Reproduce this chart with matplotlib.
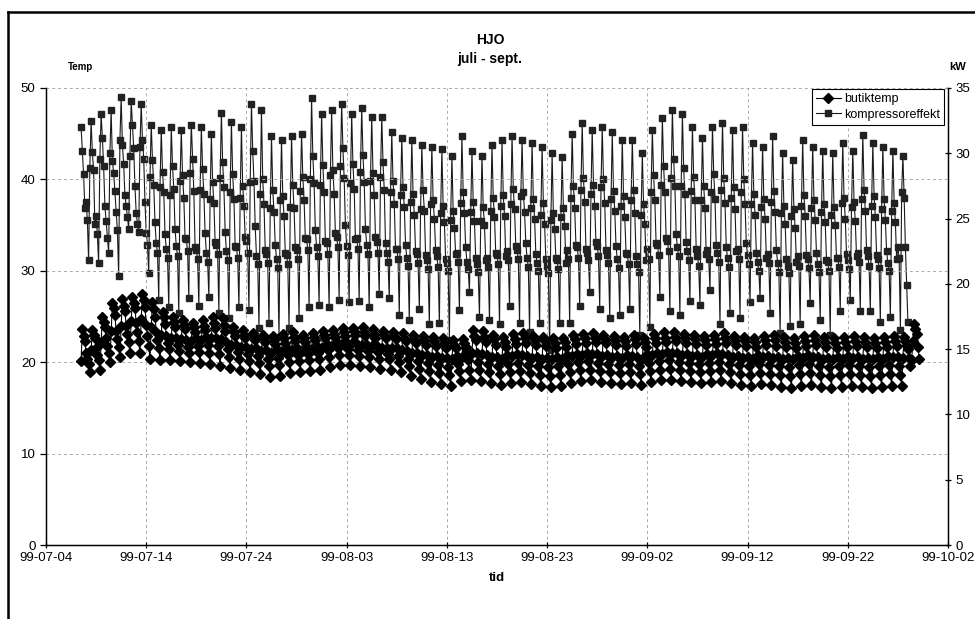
# HJO - butiktemp och kompressoreffekt, juli - sept. 1999
import numpy as np
import pandas as pd
import matplotlib
matplotlib.use('Agg')
import matplotlib.pyplot as plt
import matplotlib.dates as mdates

plt.rcParams['font.family'] = ['Liberation Sans', 'DejaVu Sans']

# readings every 3 hours, first one 99-07-07 12:00
start = '1999-07-07 12:00'

# butiktemp (left axis, Temp)
butiktemp = [
    20.1, 23.6, 22.9, 22.3,                                # 07-07
    21.0, 20.4, 19.8, 18.9, 21.3, 23.5, 23.0, 22.6,        # 07-08
    21.5, 20.8, 20.2, 19.2, 22.1, 25.0, 24.4, 23.8,
    22.6, 21.8, 21.0, 20.0, 23.4, 26.5, 25.9, 25.2,
    23.4, 22.5, 21.7, 20.6, 24.0, 26.9, 26.2, 25.6,
    24.0, 23.1, 22.2, 21.0, 24.5, 27.1, 26.5, 25.9,
    24.3, 23.3, 22.3, 21.0, 24.7, 27.5, 26.8, 26.0,
    24.1, 22.9, 21.8, 20.3, 23.9, 26.6, 25.8, 25.0,        # 07-14
    23.3, 22.4, 21.5, 20.2, 23.0, 25.5, 24.9, 24.2,
    22.9, 22.1, 21.4, 20.2, 22.7, 24.9, 24.4, 23.8,
    22.6, 21.9, 21.2, 20.1, 22.5, 24.6, 24.1, 23.6,
    22.4, 21.7, 21.0, 20.0, 22.3, 24.3, 23.8, 23.3,
    22.6, 21.8, 21.1, 19.9, 22.4, 24.6, 24.0, 23.5,
    22.8, 21.9, 21.0, 19.8, 22.6, 25.0, 24.3, 23.7,
    22.7, 21.8, 20.9, 19.6, 22.5, 24.8, 24.1, 23.4,        # 07-21
    22.2, 21.4, 20.6, 19.4, 21.9, 23.8, 23.3, 22.9,
    21.9, 21.1, 20.4, 19.2, 21.7, 23.5, 23.0, 22.6,
    21.7, 20.9, 20.1, 18.9, 21.4, 23.2, 22.8, 22.4,
    21.5, 20.7, 19.9, 18.7, 21.2, 23.0, 22.6, 22.2,
    21.3, 20.4, 19.6, 18.4, 21.0, 22.9, 22.4, 22.0,
    21.4, 20.5, 19.7, 18.5, 21.1, 23.1, 22.6, 22.1,
    21.6, 20.8, 20.0, 18.8, 21.3, 23.3, 22.8, 22.3,        # 07-28
    21.5, 20.8, 20.1, 18.9, 21.2, 23.0, 22.6, 22.2,
    21.7, 20.9, 20.2, 19.0, 21.4, 23.2, 22.8, 22.4,
    21.8, 21.0, 20.3, 19.1, 21.6, 23.4, 23.0, 22.6,
    22.0, 21.3, 20.6, 19.5, 21.8, 23.5, 23.1, 22.8,        # 08-01
    22.2, 21.5, 20.8, 19.7, 22.0, 23.7, 23.3, 22.9,
    22.1, 21.4, 20.8, 19.7, 22.1, 23.7, 23.4, 23.0,
    22.0, 21.3, 20.7, 19.6, 21.9, 23.8, 23.3, 22.9,
    21.9, 21.2, 20.6, 19.5, 21.8, 23.6, 23.1, 22.7,
    21.8, 21.1, 20.4, 19.3, 21.6, 23.4, 23.0, 22.6,
    21.6, 20.9, 20.3, 19.2, 21.5, 23.3, 22.9, 22.5,
    21.5, 20.7, 20.0, 18.9, 21.3, 23.2, 22.7, 22.3,        # 08-08
    21.2, 20.4, 19.6, 18.5, 21.0, 23.0, 22.5, 22.1,
    21.0, 20.1, 19.3, 18.2, 20.8, 22.9, 22.4, 21.9,
    20.8, 19.9, 19.0, 17.8, 20.6, 22.8, 22.3, 21.8,
    20.7, 19.7, 18.8, 17.6, 20.5, 22.6, 22.1, 21.6,
    20.5, 19.5, 18.6, 17.4, 20.3, 22.4, 21.9, 21.5,
    20.7, 19.8, 19.0, 17.9, 20.6, 22.5, 22.1, 21.7,
    21.2, 20.2, 19.2, 18.0, 21.0, 23.5, 22.9, 22.4,        # 08-15
    21.0, 20.0, 19.1, 17.9, 20.9, 23.4, 22.8, 22.2,
    20.8, 19.8, 18.9, 17.7, 20.6, 23.0, 22.5, 21.9,
    20.6, 19.6, 18.7, 17.5, 20.4, 22.8, 22.2, 21.7,
    20.8, 19.8, 18.9, 17.7, 20.7, 23.1, 22.5, 22.0,
    20.9, 19.9, 19.0, 17.8, 20.8, 23.2, 22.6, 22.1,
    20.7, 19.7, 18.8, 17.6, 20.5, 22.9, 22.4, 21.9,
    20.6, 19.6, 18.6, 17.4, 20.4, 22.8, 22.3, 21.8,        # 08-22
    20.5, 19.5, 18.5, 17.3, 20.3, 22.6, 22.1, 21.6,
    20.6, 19.6, 18.6, 17.4, 20.4, 22.7, 22.2, 21.7,
    20.8, 19.8, 18.9, 17.7, 20.7, 23.0, 22.5, 22.0,
    20.9, 20.0, 19.1, 17.9, 20.8, 23.1, 22.6, 22.1,
    21.0, 20.1, 19.2, 18.0, 20.9, 23.2, 22.7, 22.2,
    20.9, 19.9, 19.0, 17.8, 20.7, 23.0, 22.5, 22.1,
    20.8, 19.8, 18.9, 17.7, 20.6, 22.9, 22.4, 21.9,        # 08-29
    20.7, 19.7, 18.8, 17.6, 20.5, 22.8, 22.3, 21.8,
    20.8, 19.8, 18.9, 17.7, 20.7, 23.0, 22.5, 22.0,
    20.6, 19.6, 18.7, 17.5, 20.4, 22.7, 22.2, 21.7,        # 09-01
    20.9, 19.9, 19.0, 17.8, 20.8, 23.1, 22.6, 22.1,
    21.0, 20.1, 19.2, 18.0, 20.9, 23.3, 22.7, 22.2,
    21.1, 20.2, 19.3, 18.1, 21.0, 23.3, 22.8, 22.3,
    21.0, 20.0, 19.1, 17.9, 20.8, 23.1, 22.6, 22.1,        # 09-05
    20.9, 19.9, 19.0, 17.8, 20.7, 23.0, 22.5, 22.0,
    20.8, 19.8, 18.9, 17.7, 20.6, 22.9, 22.4, 21.9,
    20.9, 19.9, 19.0, 17.8, 20.8, 23.0, 22.5, 22.0,
    21.0, 20.0, 19.1, 17.9, 20.9, 23.2, 22.6, 22.1,
    20.8, 19.8, 18.9, 17.7, 20.6, 22.9, 22.4, 21.9,
    20.7, 19.7, 18.7, 17.5, 20.5, 22.8, 22.3, 21.8,
    20.6, 19.6, 18.6, 17.4, 20.4, 22.7, 22.2, 21.7,        # 09-12
    20.8, 19.8, 18.8, 17.6, 20.6, 22.9, 22.4, 21.9,
    20.7, 19.7, 18.7, 17.5, 20.5, 23.0, 22.4, 21.8,
    20.6, 19.6, 18.6, 17.3, 20.4, 22.8, 22.2, 21.7,
    20.5, 19.5, 18.5, 17.2, 20.3, 22.7, 22.1, 21.6,
    20.7, 19.7, 18.7, 17.4, 20.5, 22.9, 22.3, 21.8,
    20.8, 19.8, 18.8, 17.5, 20.6, 23.0, 22.4, 21.9,
    20.6, 19.6, 18.6, 17.3, 20.4, 22.8, 22.2, 21.7,        # 09-19
    20.5, 19.5, 18.5, 17.2, 20.3, 22.7, 22.1, 21.6,
    20.6, 19.6, 18.6, 17.3, 20.4, 22.8, 22.2, 21.7,
    20.7, 19.7, 18.7, 17.4, 20.5, 22.9, 22.3, 21.8,
    20.6, 19.6, 18.6, 17.3, 20.4, 22.8, 22.2, 21.7,
    20.5, 19.5, 18.5, 17.2, 20.3, 22.7, 22.1, 21.6,
    20.6, 19.6, 18.6, 17.3, 20.4, 22.8, 22.2, 21.7,
    20.7, 19.7, 18.7, 17.4, 20.6, 22.9, 22.3, 21.8,        # 09-26
    20.6, 19.6, 18.6, 17.4, 20.5, 22.8, 22.3, 21.9,
    21.4, 20.5, 19.6, 20.2, 22.3, 24.2, 23.6, 23.1,        # 09-28
    21.7, 20.4,                                            # 09-29
]

# kompressoreffekt (right axis, kW)
kompressoreffekt = [
    32.0, 30.2, 28.4, 25.8,                                # 07-07
    26.3, 24.9, 21.8, 28.9, 32.5, 30.1, 28.7, 24.6,        # 07-08
    25.2, 23.8, 21.6, 29.6, 33.0, 31.2, 29.0, 26.0,
    24.8, 23.5, 22.4, 30.0, 33.3, 29.4, 28.5, 27.1,
    25.5, 24.1, 20.6, 31.0, 34.3, 30.6, 29.2, 26.8,
    26.0, 25.1, 24.2, 29.8, 34.0, 32.2, 30.4, 27.5,
    25.4, 24.6, 24.0, 30.5, 33.8, 31.0, 29.6, 26.3,
    23.9, 23.0, 20.8, 28.2, 32.2, 29.5, 27.6, 24.7,        # 07-14
    23.1, 22.4, 18.8, 27.4, 31.8, 28.6, 27.0, 23.8,
    22.7, 22.0, 18.2, 26.8, 32.0, 29.0, 27.3, 24.2,
    22.9, 22.1, 17.8, 27.9, 31.8, 28.3, 26.6, 23.5,
    23.4, 22.5, 18.9, 28.5, 32.2, 29.6, 27.1, 22.8,
    22.6, 21.9, 18.3, 27.2, 32.0, 28.8, 26.9, 23.9,
    22.4, 21.7, 19.0, 26.5, 31.5, 27.8, 26.2, 23.2,
    23.0, 22.3, 17.8, 28.1, 33.1, 29.3, 27.4, 24.0,        # 07-21
    22.5, 21.8, 17.4, 27.0, 32.4, 28.4, 26.5, 22.9,
    22.8, 22.0, 18.2, 26.6, 32.0, 27.5, 26.0, 23.6,
    23.3, 22.4, 18.0, 27.8, 33.8, 30.2, 27.9, 24.4,
    22.1, 21.5, 16.6, 26.9, 33.3, 28.0, 26.1, 22.6,
    22.3, 21.6, 17.0, 25.8, 31.3, 27.2, 25.5, 23.0,
    21.9, 21.2, 15.9, 26.4, 31.0, 26.7, 25.2, 22.4,
    22.2, 21.5, 16.6, 25.9, 31.3, 27.6, 25.8, 22.8,        # 07-28
    22.6, 21.9, 17.4, 27.1, 31.5, 28.2, 26.4, 23.5,
    23.4, 22.6, 18.2, 28.0, 34.2, 29.8, 27.7, 24.1,
    22.8, 22.1, 18.4, 27.6, 33.0, 29.1, 27.0, 23.3,
    23.1, 22.3, 18.2, 28.3, 33.3, 28.7, 26.9, 23.9,        # 08-01
    23.6, 22.8, 18.8, 29.0, 33.8, 30.4, 28.1, 24.5,
    22.9, 22.2, 18.6, 27.7, 33.0, 29.2, 27.3, 23.4,
    23.5, 22.7, 18.7, 28.6, 33.5, 29.9, 27.8, 24.2,
    23.0, 22.3, 18.2, 27.9, 32.8, 28.5, 26.8, 23.6,
    23.2, 22.4, 19.2, 28.2, 32.8, 29.3, 27.2, 23.1,
    22.4, 21.7, 18.9, 27.0, 31.6, 27.9, 26.1, 22.7,
    22.7, 21.9, 17.6, 26.8, 31.2, 27.4, 25.9, 23.0,        # 08-08
    22.0, 21.4, 17.2, 26.3, 31.0, 26.9, 25.3, 22.5,
    22.3, 21.6, 18.1, 25.7, 30.6, 27.2, 25.6, 22.2,
    21.8, 21.1, 16.9, 26.1, 30.5, 26.4, 25.0, 22.6,
    22.1, 21.3, 17.0, 25.4, 30.3, 26.0, 24.7, 21.9,
    21.6, 21.0, 15.7, 24.9, 29.8, 25.6, 24.3, 22.3,
    22.4, 21.7, 18.0, 26.2, 31.3, 27.0, 25.4, 22.8,
    21.7, 21.1, 19.4, 25.5, 30.2, 26.3, 24.8, 22.0,        # 08-15
    21.5, 20.9, 17.5, 24.8, 29.8, 25.9, 24.5, 21.8,
    22.0, 21.3, 17.2, 25.6, 30.6, 26.6, 25.1, 22.4,
    22.2, 21.5, 16.9, 26.0, 31.0, 26.8, 25.2, 22.1,
    22.5, 21.8, 18.3, 26.1, 31.3, 27.3, 25.7, 22.9,
    22.6, 21.9, 17.0, 26.7, 31.0, 27.0, 25.5, 23.1,
    22.0, 21.3, 16.3, 25.8, 30.8, 26.5, 25.0, 22.3,
    21.6, 21.0, 17.0, 25.3, 30.5, 26.2, 24.6, 21.9,        # 08-22
    21.4, 20.8, 14.9, 24.9, 30.0, 25.4, 24.2, 22.0,
    21.8, 21.1, 17.0, 25.1, 29.7, 25.8, 24.4, 21.6,
    22.6, 21.9, 17.0, 26.6, 31.5, 27.5, 25.8, 23.0,
    22.8, 22.0, 18.3, 27.2, 32.3, 28.1, 26.3, 22.7,
    22.4, 21.8, 19.4, 26.9, 31.8, 27.6, 26.0, 23.2,
    22.9, 22.1, 18.1, 27.4, 32.0, 28.0, 26.2, 22.6,
    22.2, 21.6, 17.4, 26.5, 31.6, 27.1, 25.6, 22.9,        # 08-29
    21.9, 21.2, 17.6, 26.0, 31.0, 26.7, 25.1, 22.4,
    22.3, 21.5, 18.1, 26.4, 31.0, 27.2, 25.4, 22.1,
    21.5, 20.9, 16.1, 25.3, 30.0, 26.1, 24.6, 21.8,        # 09-01
    22.7, 21.9, 16.7, 27.0, 31.8, 28.3, 26.4, 23.1,
    23.0, 22.2, 19.0, 27.6, 32.7, 29.0, 27.0, 23.5,
    23.3, 22.5, 17.9, 28.1, 33.3, 29.6, 27.5, 23.8,
    22.8, 22.1, 17.6, 27.5, 33.0, 28.9, 26.9, 23.2,        # 09-05
    22.5, 21.8, 18.7, 27.1, 32.0, 28.2, 26.4, 22.7,
    22.1, 21.4, 18.4, 26.4, 31.2, 27.5, 25.8, 22.3,
    22.6, 21.9, 19.5, 27.0, 32.0, 28.4, 26.5, 23.0,
    22.4, 21.7, 16.9, 27.2, 32.3, 28.1, 26.2, 22.8,
    22.0, 21.3, 17.8, 26.6, 31.8, 27.4, 25.7, 22.5,
    22.7, 21.9, 17.4, 27.0, 32.0, 28.0, 26.1, 23.1,
    22.2, 21.5, 18.6, 26.1, 30.8, 26.9, 25.3, 22.4,        # 09-12
    21.7, 21.0, 18.9, 25.9, 30.5, 26.5, 25.0, 22.0,
    22.3, 21.6, 17.8, 26.3, 31.3, 27.1, 25.5, 22.6,
    21.6, 20.9, 16.2, 25.4, 30.0, 26.0, 24.6, 21.9,
    21.4, 20.8, 16.8, 25.2, 29.5, 25.7, 24.3, 21.7,
    22.1, 21.4, 16.9, 26.0, 31.0, 26.8, 25.2, 22.2,
    21.9, 21.2, 18.5, 25.8, 30.5, 26.4, 24.9, 22.4,
    21.5, 20.9, 17.2, 25.5, 30.2, 26.1, 24.7, 21.8,        # 09-19
    21.7, 21.0, 16.1, 25.3, 30.0, 25.9, 24.5, 22.0,
    22.0, 21.3, 17.9, 26.2, 30.8, 26.6, 25.0, 22.3,
    21.8, 21.1, 18.8, 25.9, 30.2, 26.3, 24.8, 22.1,
    22.4, 21.7, 17.9, 26.5, 31.4, 27.2, 25.6, 22.6,
    22.1, 21.4, 17.9, 26.0, 30.8, 26.7, 25.1, 22.2,
    21.9, 21.2, 17.1, 25.7, 30.5, 26.5, 24.9, 22.5,
    21.6, 21.0, 17.5, 25.6, 30.2, 26.2, 24.7, 21.9,        # 09-26
    22.8, 22.0, 16.5, 27.0, 29.8, 26.6, 22.8, 19.9,
    17.1,                                                  # 09-28
]

t_temp = pd.date_range(start, periods=len(butiktemp), freq='3h')
t_kw = pd.date_range(start, periods=len(kompressoreffekt), freq='3h')

fig = plt.figure(figsize=(9.75, 6.19), dpi=100)
ax = fig.add_axes([46/975, 1 - 545/619, (948 - 46)/975, (545 - 88)/619])
ax2 = ax.twinx()

l2, = ax2.plot(t_kw, kompressoreffekt, color='#1a1a1a', lw=0.8, marker='s',
               markersize=5.0, markerfacecolor='#222222', markeredgecolor='#222222',
               label='kompressoreffekt')
l1, = ax.plot(t_temp, butiktemp, color='black', lw=0.8, marker='D',
              markersize=4.8, markerfacecolor='black', markeredgecolor='black',
              label='butiktemp')

# temperature drawn on top of the compressor series
ax.set_zorder(2)
ax.patch.set_visible(False)

ax.set_ylim(0, 50)
ax.set_yticks([0, 10, 20, 30, 40, 50])
ax2.set_ylim(0, 35)
ax2.set_yticks([0, 5, 10, 15, 20, 25, 30, 35])

ax.set_xlim(pd.Timestamp('1999-07-04'), pd.Timestamp('1999-10-02'))
ticks = pd.date_range('1999-07-04', '1999-10-02', freq='10D')
ax.set_xticks(ticks)
ax.xaxis.set_major_formatter(mdates.DateFormatter('%y-%m-%d'))

ax2.grid(False)
ax.grid(True, color='#aaaaaa', ls=(0, (3, 3)), lw=0.7)
for a in (ax, ax2):
    a.spines['top'].set_visible(False)
    a.tick_params(labelsize=9.5, length=4, width=0.9)
ax.tick_params(axis='x', direction='inout', pad=3)
ax2.tick_params(axis='y', direction='inout')
ax.spines['left'].set_linewidth(1.0)
ax2.spines['right'].set_linewidth(1.0)
ax.spines['bottom'].set_linewidth(1.0)

ax.set_xlabel('tid', fontsize=9.5, fontweight='bold', labelpad=6)

leg = ax.legend([l1, l2], ['butiktemp', 'kompressoreffekt'], loc='upper right',
                bbox_to_anchor=(0.997, 1.0), fontsize=9, frameon=True,
                fancybox=False, edgecolor='black', framealpha=1,
                borderpad=0.3, labelspacing=0.3, handlelength=2.0,
                handletextpad=0.3, borderaxespad=0.1)
leg.get_frame().set_linewidth(0.8)

fig.text(490/975, 1 - 40/619, 'HJO', ha='center', va='center',
         fontsize=10, fontweight='bold')
fig.text(490/975, 1 - 59/619, 'juli - sept.', ha='center', va='center',
         fontsize=10, fontweight='bold')
fig.text(80/975, 1 - 67/619, 'Temp', ha='center', va='center',
         fontsize=7, fontweight='bold')
fig.text(958/975, 1 - 67/619, 'kW', ha='center', va='center',
         fontsize=8, fontweight='bold')

# chart area frame
fig.add_artist(plt.Line2D([8/975, 8/975], [0, 1 - 12/619], color='black',
                          lw=1.8, transform=fig.transFigure))
fig.add_artist(plt.Line2D([8/975, 1], [1 - 12/619, 1 - 12/619], color='black',
                          lw=1.8, transform=fig.transFigure))

fig.savefig('out.png', dpi=100)
